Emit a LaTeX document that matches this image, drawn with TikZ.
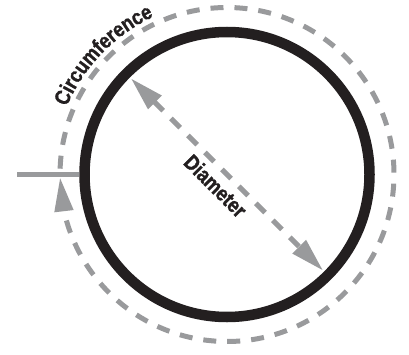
\documentclass[tikz,border=0pt]{standalone}
\usepackage{fontspec}
\newfontfamily\tagfont{Liberation Sans}[FakeStretch=0.85,FakeBold=1.2]
\usepackage{xcolor}
\definecolor{ink}{HTML}{231F20}
\definecolor{mist}{HTML}{999A9C}
\usetikzlibrary{arrows.meta,bending,decorations.text}

\begin{document}
\begin{tikzpicture}[
  x=1pt,y=1pt,
  headtip/.style={-{Triangle[length=34pt,width=18pt]}},
  bothtips/.style={{Triangle[length=34pt,width=18pt]}-{Triangle[length=34pt,width=18pt]}},
  disc/.style={circle,draw=ink,line width=10.5pt,minimum size=285pt,inner sep=0pt},
  ring/.style={draw=mist,line width=5pt,dash pattern=on 13pt off 11pt},
  tag/.style={font=\tagfont\bfseries\fontsize{21.5}{23}\selectfont,text=ink}
]
\useasboundingbox (0,0) rectangle (409,354);
\coordinate (c) at (227,179.5);
\node[disc] (wheel) at (c) {};

% circumference, dashed ring with its arrow
\draw[ring,headtip] ([shift={(178:167)}]c) arc[start angle=178,end angle=-179,radius=167];
\coordinate (tick) at (17,179.5);
\draw[mist,line width=5pt] (tick) -- (wheel.west);
\path[decorate,decoration={text along path,text align=center,
    text={|\tagfont\bfseries\fontsize{21.5}{23}\selectfont\color{ink}|Circumference}}]
  ([shift={(160:174)}]c) arc[start angle=160,end angle=112,radius=174];

% diameter
\coordinate (dA) at ([shift={(135:136)}]c);
\coordinate (dB) at ([shift={(-45:136)}]c);
\draw[ring,bothtips] (dA) -- (dB);
\node[tag,rotate=-45,anchor=north,inner sep=8pt] (dlabel) at (c) {Diameter};
\end{tikzpicture}
\end{document}
